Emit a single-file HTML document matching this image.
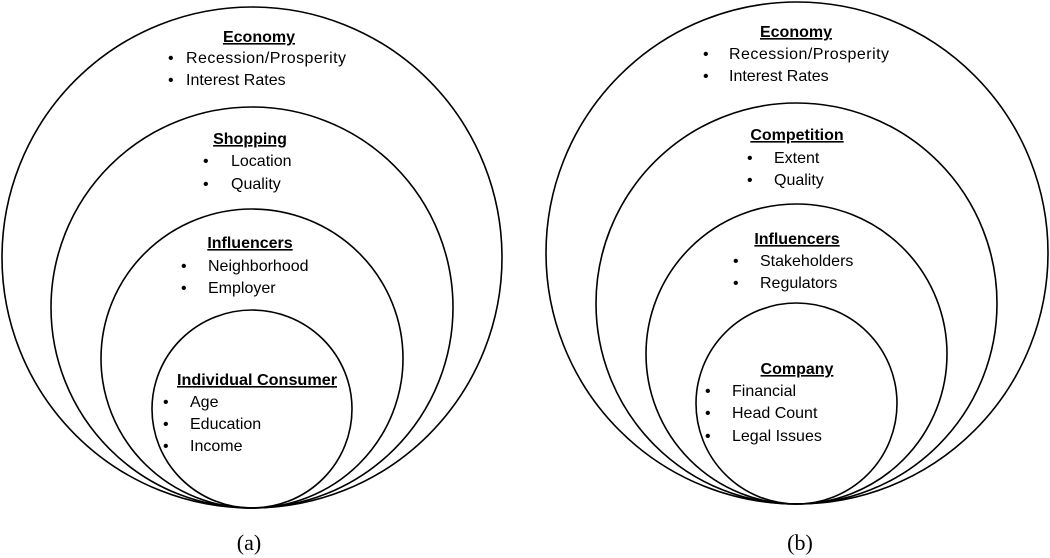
<!DOCTYPE html>
<html><head><meta charset="utf-8"><style>
html,body{margin:0;padding:0;background:#fff;}
svg{display:block;}
text{font-family:"Liberation Sans",sans-serif;font-size:16px;fill:#000;}
.h{font-weight:bold;text-decoration:underline;text-anchor:middle;}
.c{font-family:"Liberation Serif",serif;font-size:22px;text-anchor:middle;}
</style></head><body>
<svg width="1050" height="558" viewBox="0 0 1050 558" xmlns="http://www.w3.org/2000/svg">
<g fill="none" stroke="#000" stroke-width="1.6">
<ellipse cx="252" cy="257.5" rx="250" ry="250.5"/>
<ellipse cx="252" cy="307.5" rx="201" ry="200.5"/>
<ellipse cx="252" cy="358.5" rx="151" ry="149.5"/>
<ellipse cx="252" cy="409" rx="100" ry="99"/>
<ellipse cx="797" cy="253" rx="251" ry="251"/>
<ellipse cx="796.5" cy="303.5" rx="200.5" ry="200.5"/>
<ellipse cx="796.5" cy="354" rx="150.5" ry="150"/>
<ellipse cx="796.5" cy="403.5" rx="100.5" ry="100.5"/>
</g>
<!-- left -->
<text class="h" x="259" y="42">Economy</text>
<text x="168" y="63">•</text><text x="186" y="63" textLength="160">Recession/Prosperity</text>
<text x="168" y="85">•</text><text x="186" y="85">Interest Rates</text>
<text class="h" x="250" y="144">Shopping</text>
<text x="203" y="166">•</text><text x="231" y="166">Location</text>
<text x="203" y="189">•</text><text x="231" y="189">Quality</text>
<text class="h" x="250" y="248">Influencers</text>
<text x="181" y="271">•</text><text x="208" y="271">Neighborhood</text>
<text x="181" y="293">•</text><text x="208" y="293">Employer</text>
<text class="h" x="257" y="385" textLength="160" lengthAdjust="spacingAndGlyphs">Individual Consumer</text>
<text x="163" y="407">•</text><text x="190" y="407">Age</text>
<text x="163" y="429">•</text><text x="190" y="429">Education</text>
<text x="163" y="451">•</text><text x="190" y="451">Income</text>
<!-- right -->
<text class="h" x="796" y="37">Economy</text>
<text x="703" y="59">•</text><text x="729" y="59" textLength="160">Recession/Prosperity</text>
<text x="703" y="81">•</text><text x="729" y="81">Interest Rates</text>
<text class="h" x="797" y="140">Competition</text>
<text x="747" y="163">•</text><text x="774" y="163">Extent</text>
<text x="747" y="185">•</text><text x="774" y="185">Quality</text>
<text class="h" x="797" y="244">Influencers</text>
<text x="733" y="266">•</text><text x="760" y="266">Stakeholders</text>
<text x="733" y="288">•</text><text x="760" y="288">Regulators</text>
<text class="h" x="797" y="374">Company</text>
<text x="705" y="396">•</text><text x="732" y="396">Financial</text>
<text x="705" y="418">•</text><text x="732" y="418">Head Count</text>
<text x="705" y="441">•</text><text x="732" y="441">Legal Issues</text>
<text class="c" x="249" y="550">(a)</text>
<text class="c" x="800" y="550">(b)</text>
</svg>
</body></html>
